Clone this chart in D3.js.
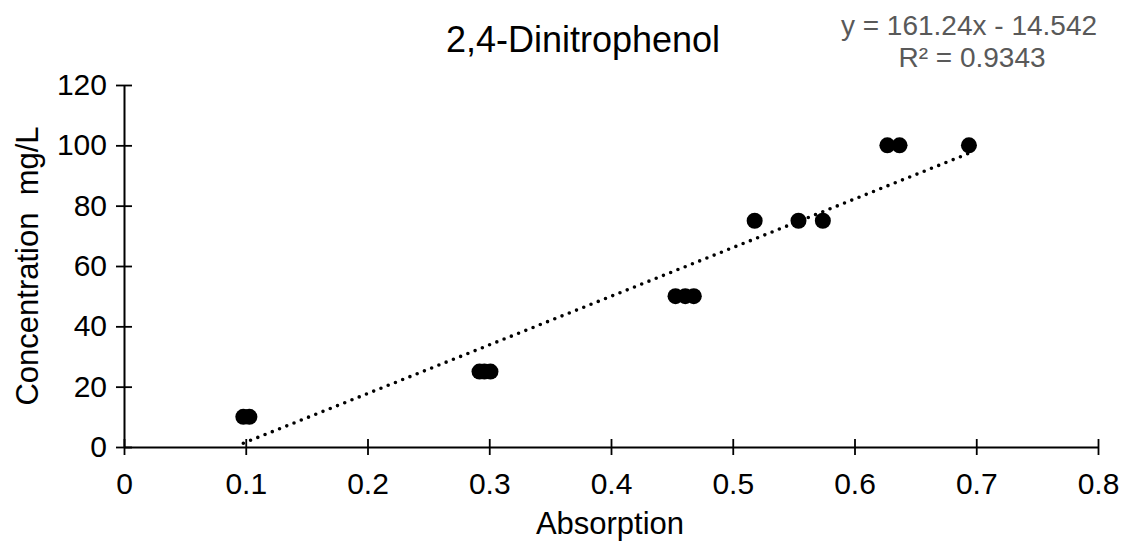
<!DOCTYPE html>
<html>
<head>
  <meta charset="utf-8">
  <title>2,4-Dinitrophenol</title>
  <style>
    body { margin: 0; background: #fff; }
    text { font-family: "Liberation Sans", Arial, sans-serif; }
  </style>
</head>
<body>
  <script src="https://d3js.org/d3.v7.min.js"></script>
  <script>
    var absorption = [0.098, 0.103, 0.292, 0.296, 0.301, 0.453, 0.461, 0.468, 0.518, 0.554, 0.574, 0.627, 0.637, 0.694];
    var concentration = [10, 10, 25, 25, 25, 50, 50, 50, 75, 75, 75, 100, 100, 100];
    var xTicks = [0, 0.1, 0.2, 0.3, 0.4, 0.5, 0.6, 0.7, 0.8];
    var yTicks = [0, 20, 40, 60, 80, 100, 120];
    var slope = 161.24, intercept = -14.542;
    var eqLabel = "y = 161.24x - 14.542";
    var r2Label = "R² = 0.9343";

    var w = 1121, h = 542;
    var svg = d3.select("body").append("svg").attr("width", w).attr("height", h);

    var x = d3.scaleLinear().domain([0, 0.8]).range([124, 1098]);
    var y = d3.scaleLinear().domain([0, 120]).range([447, 85]);

    // axes, ticks cross the line
    var xAxis = svg.append("g").attr("transform", "translate(0," + y(0) + ")")
      .call(d3.axisBottom(x).tickValues(xTicks).tickSize(0).tickPadding(26)
        .tickFormat(function(d){ return d === 0 ? "0" : d3.format(".1f")(d); }));
    xAxis.selectAll(".tick").append("line").attr("y1", -8).attr("y2", 8).attr("stroke", "#000").attr("stroke-width", 1.8);

    var yAxis = svg.append("g").attr("transform", "translate(" + x(0) + ",0)")
      .call(d3.axisLeft(y).tickValues(yTicks).tickSize(0).tickPadding(17));
    yAxis.selectAll(".tick").append("line").attr("x1", -8).attr("x2", 8).attr("stroke", "#000").attr("stroke-width", 1.8);

    svg.selectAll(".domain").attr("stroke", "#000").attr("stroke-width", 2);
    svg.selectAll(".tick text").attr("font-size", 30).attr("fill", "#000")
      .style("font-family", "'Liberation Sans', Arial, sans-serif");

    // points
    svg.selectAll("circle.pt")
      .data(absorption)
      .enter()
      .append("circle")
      .attr("class", "pt")
      .attr("cx", function(d){ return x(d); })
      .attr("cy", function(d, i){ return y(concentration[i]); })
      .attr("r", 8)
      .attr("fill", "#000");

    // trendline
    var x0 = d3.min(absorption), x1 = d3.max(absorption);
    svg.append("line")
      .attr("x1", x(x0)).attr("y1", y(slope * x0 + intercept))
      .attr("x2", x(x1)).attr("y2", y(slope * x1 + intercept))
      .attr("stroke", "#000").attr("stroke-width", 3.6)
      .attr("stroke-linecap", "round").attr("stroke-dasharray", "0,7.8");

    // titles
    svg.append("text").attr("x", 583).attr("y", 52).attr("text-anchor", "middle")
      .attr("font-size", 36).text("2,4-Dinitrophenol");
    svg.append("text").attr("x", 610).attr("y", 534).attr("text-anchor", "middle")
      .attr("font-size", 31).text("Absorption");
    svg.append("text").attr("transform", "translate(38,266) rotate(-90)").attr("text-anchor", "middle")
      .style("white-space", "pre")
      .attr("font-size", 31).text("Concentration  mg/L");

    svg.append("text").attr("x", 969).attr("y", 35).attr("text-anchor", "middle")
      .attr("font-size", 28).attr("fill", "#595959").text(eqLabel);
    svg.append("text").attr("x", 972).attr("y", 67).attr("text-anchor", "middle")
      .attr("font-size", 28).attr("fill", "#595959").text(r2Label);
  </script>
</body>
</html>
